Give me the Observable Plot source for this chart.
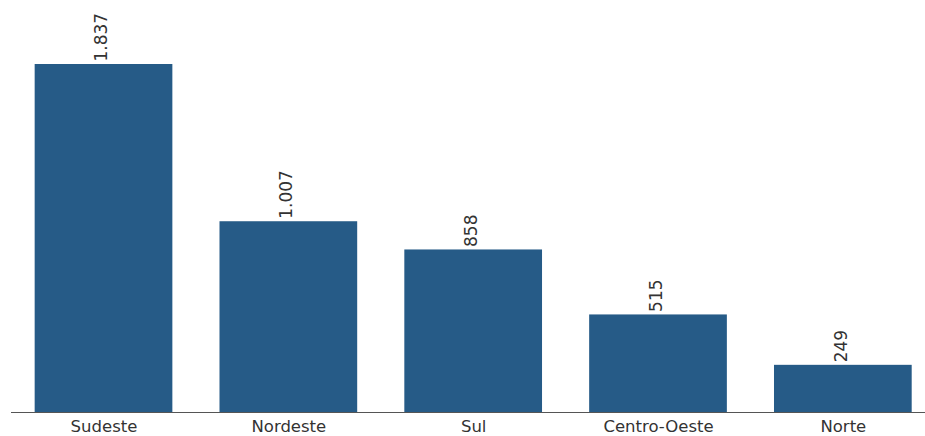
<!DOCTYPE html>
<html>
<head>
<meta charset="utf-8">
<script src="https://cdn.jsdelivr.net/npm/d3@7"></script>
<script src="https://cdn.jsdelivr.net/npm/@observablehq/plot@0.6"></script>
<style>
  html, body { margin: 0; padding: 0; background: #fff; }
  #chart svg { display: block; }
</style>
</head>
<body>
<div id="chart"></div>
<script>
// Regiões e totais por região
const regioes = ["Sudeste", "Nordeste", "Sul", "Centro-Oeste", "Norte"];
const totais = [1837, 1007, 858, 515, 249];

const dados = regioes.map((regiao, i) => ({regiao, total: totais[i]}));

// Formato brasileiro: ponto como separador de milhar
const fmt = d3.formatLocale({decimal: ",", thousands: ".", grouping: [3], currency: ["R$", ""]}).format(",d");

const fonte = "DejaVu Sans, sans-serif";

const chart = Plot.plot({
  width: 925,
  height: 436,
  marginTop: 64,
  marginBottom: 24,
  marginLeft: 11,
  marginRight: 0,
  style: {fontFamily: fonte, fontSize: "16.5px", color: "#333", background: "#fff"},
  x: {
    domain: regioes,
    paddingInner: 0.255,
    paddingOuter: 0.1,
    align: 0.64,
    round: false,
    label: null,
    tickSize: 0,
    tickPadding: 8
  },
  y: {domain: [0, 1837], axis: null},
  marks: [
    Plot.barY(dados, {x: "regiao", y: "total", fill: "#265b87"}),
    Plot.ruleY([0], {stroke: "#555", strokeWidth: 1.2}),
    Plot.text(dados, {
      x: "regiao",
      y: "total",
      text: d => fmt(d.total),
      rotate: -90,
      textAnchor: "start",
      dx: -2,
      dy: -3,
      fill: "#333",
      fontSize: 17
    })
  ]
});

document.getElementById("chart").append(chart);
</script>
</body>
</html>
